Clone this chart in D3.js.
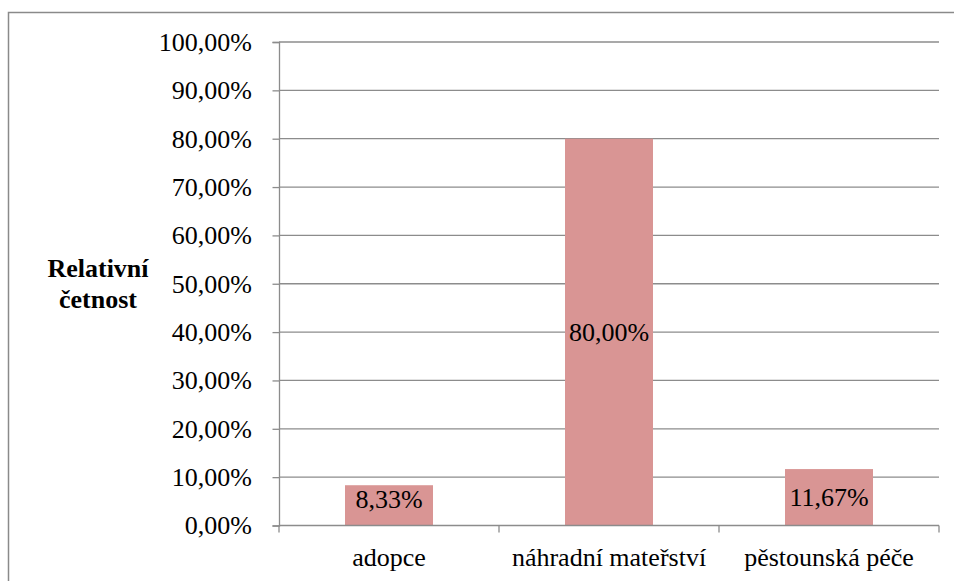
<!DOCTYPE html>
<html>
<head>
<meta charset="utf-8">
<script src="https://cdn.jsdelivr.net/npm/d3@7"></script>
<style>
  text, tspan { font-family: "Liberation Serif" !important; }
</style>
</head>
<body style="margin:0">
<svg id="chart" width="954" height="581" font-family="Liberation Serif"></svg>
<script>
// Relative frequency of each answer category
const categories = ["adopce", "náhradní mateřství", "pěstounská péče"];
const values = [8.33, 80.00, 11.67];
const yTicks = [0, 10, 20, 30, 40, 50, 60, 70, 80, 90, 100];
const yTitle = ["Relativní", "četnost"];

const fmt = v => v.toFixed(2).replace(".", ",") + "%";

const svg = d3.select("#chart");
const font = "Liberation Serif";
const fontSize = 26;
const gridColor = "#8c8c8c";

// Serif face applied inline on every text node
const serif = sel => sel.attr("font-family", font).style("font-family", font, "important");

// Outer chart frame (extends past the right/bottom edges)
svg.append("rect")
  .attr("x", 8.5).attr("y", 12.5)
  .attr("width", 960).attr("height", 600)
  .attr("fill", "none").attr("stroke", "#8a8a8a").attr("stroke-width", 1.5);

const plot = { left: 279, right: 939, top: 42, bottom: 525.5 };

const x = d3.scaleBand()
  .domain(categories)
  .range([plot.left, plot.right])
  .paddingInner(0).paddingOuter(0);

const y = d3.scaleLinear()
  .domain([0, 100])
  .range([plot.bottom, plot.top]);

// Horizontal gridlines
svg.append("g")
  .selectAll("line")
  .data(yTicks.filter(t => t > 0))
  .join("line")
  .attr("x1", plot.left).attr("x2", plot.right)
  .attr("y1", d => y(d)).attr("y2", d => y(d))
  .attr("stroke", gridColor).attr("stroke-width", 1.3);

// Bars, 40% of each category band
const barW = x.bandwidth() * 0.4;
svg.append("g")
  .selectAll("rect")
  .data(values)
  .join("rect")
  .attr("x", (d, i) => x(categories[i]) + (x.bandwidth() - barW) / 2)
  .attr("y", d => y(d))
  .attr("width", barW)
  .attr("height", d => y(0) - y(d))
  .attr("fill", "#d99594");

// Value labels: centred in the bar, kept clear of the baseline on short bars
svg.append("g")
  .selectAll("text")
  .data(values)
  .join("text")
  .attr("x", (d, i) => x(categories[i]) + x.bandwidth() / 2)
  .attr("y", d => Math.min((y(d) + y(0)) / 2 + 9, y(0) - 17.5))
  .attr("text-anchor", "middle")
  .attr("font-size", fontSize)
  .attr("fill", "#000")
  .call(serif)
  .text(d => fmt(d));

// Y axis
const yAxis = d3.axisLeft(y)
  .tickValues(yTicks)
  .tickSize(6.5)
  .tickPadding(20.5)
  .tickFormat(d => fmt(d));
const gy = svg.append("g")
  .attr("transform", `translate(${plot.left},0)`)
  .call(yAxis);
gy.attr("font-family", font).attr("font-size", fontSize);
gy.select(".domain").attr("stroke", gridColor).attr("stroke-width", 1.3);
gy.selectAll(".tick line").attr("stroke", gridColor).attr("stroke-width", 1.3);
gy.selectAll(".tick text").attr("fill", "#000").call(serif);

// X axis with ticks on category boundaries
const xAxis = d3.axisBottom(x).tickSize(0).tickPadding(22);
const gx = svg.append("g")
  .attr("transform", `translate(0,${plot.bottom})`)
  .call(xAxis);
gx.attr("font-family", font).attr("font-size", fontSize);
gx.select(".domain").remove();
gx.selectAll(".tick text").attr("fill", "#000").call(serif);
gx.append("line")
  .attr("x1", plot.left).attr("x2", plot.right)
  .attr("y1", 0).attr("y2", 0)
  .attr("stroke", gridColor).attr("stroke-width", 1.3);
gx.selectAll(".boundary")
  .data(categories.map(c => x(c)).concat([plot.right]))
  .join("line")
  .attr("class", "boundary")
  .attr("x1", d => d).attr("x2", d => d)
  .attr("y1", 0).attr("y2", 7)
  .attr("stroke", gridColor).attr("stroke-width", 1.3);

// Y axis title
svg.append("text")
  .attr("x", 98).attr("y", 277)
  .attr("text-anchor", "middle")
  .attr("font-weight", "bold")
  .attr("font-size", fontSize)
  .attr("fill", "#000")
  .call(serif)
  .selectAll("tspan")
  .data(yTitle)
  .join("tspan")
  .attr("x", 98)
  .attr("dy", (d, i) => i === 0 ? 0 : 31)
  .text(d => d);
</script>
</body>
</html>
